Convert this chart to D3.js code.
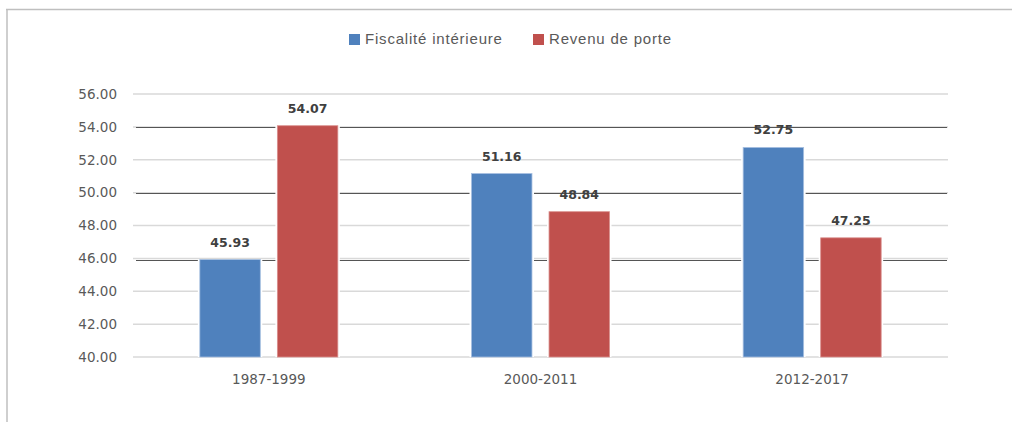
<!DOCTYPE html>
<html lang="fr">
<head>
  <meta charset="UTF-8">
  <title>Fiscalité intérieure / Revenu de porte</title>
  <script src="https://d3js.org/d3.v7.min.js"></script>
  <style>
  body{ margin:0; background:#fff; }
  .tick text{ font-family:"DejaVu Sans", sans-serif; font-size:13.5px; fill:#595959; }
  .legend text{ font-family:"Liberation Sans", sans-serif; font-size:15px; letter-spacing:0.8px; fill:#595959; }
  .val{ font-family:"DejaVu Sans", sans-serif; font-size:12.5px; font-weight:bold; fill:#404040; }
  </style>
</head>
<body>
  <div class="container"></div>
  <script>
  var periods = ["1987-1999", "2000-2011", "2012-2017"];
  var series = ["Fiscalité intérieure", "Revenu de porte"];
  var fiscalite = [45.93, 51.16, 52.75];
  var revenuPorte = [54.07, 48.84, 47.25];
  var yTicks = [40, 42, 44, 46, 48, 50, 52, 54, 56];
  var darkLines = [46, 50, 54];   // the darker rules seen in the picture
  var colors = ["#4F81BD", "#C0504D"];

  var w = 1012, h = 422,
      margin = {top: 94, right: 64, bottom: 65, left: 133};
  var g_w = w - margin.left - margin.right,
      g_h = h - margin.top - margin.bottom;

  var svg = d3.select('.container').append('svg')
      .attr('width', w).attr('height', h);

  // outer frame (top + left edges only visible)
  svg.append('line').attr('x1', 6).attr('x2', w).attr('y1', 9.5).attr('y2', 9.5)
     .attr('stroke', '#bfbfbf').attr('stroke-width', 1.5);
  svg.append('line').attr('x1', 7).attr('x2', 7).attr('y1', 9).attr('y2', h)
     .attr('stroke', '#bfbfbf').attr('stroke-width', 1.5);

  var g = svg.append('g').attr('transform', 'translate(' + margin.left + ',' + margin.top + ')');

  var yScale = d3.scaleLinear().domain([40, 56]).range([g_h, 0]);
  var x0 = d3.scaleBand().domain(periods).range([0, g_w]);
  var x1 = d3.scaleBand().domain(series).range([-69, 69]).paddingInner(0.22);

  // light gridlines
  g.selectAll('.grid').data(yTicks).enter().append('line')
    .attr('x1', 0).attr('x2', g_w)
    .attr('y1', function(d){ return yScale(d); })
    .attr('y2', function(d){ return yScale(d); })
    .attr('stroke', '#d9d9d9').attr('stroke-width', 1.5);

  // darker rules
  g.selectAll('.dark').data(darkLines).enter().append('line')
    .attr('x1', 3).attr('x2', g_w - 1)
    .attr('y1', function(d){ return Math.round(yScale(d)) + (d === 46 ? 2.5 : 0.5); })
    .attr('y2', function(d){ return Math.round(yScale(d)) + (d === 46 ? 2.5 : 0.5); })
    .attr('stroke', '#555').attr('stroke-width', 1);

  var yAxis = d3.axisLeft(yScale).tickValues(yTicks).tickSize(0).tickPadding(16)
      .tickFormat(d3.format('.2f'));
  var ya = g.append('g').call(yAxis);
  ya.select('.domain').remove();

  var xAxis = d3.axisBottom(x0).tickSize(0).tickPadding(17);
  var xa = g.append('g').attr('transform', 'translate(0,' + g_h + ')').call(xAxis);
  xa.select('.domain').remove();

  var rows = periods.map(function(p, i){
    return [{s: series[0], v: fiscalite[i], c: colors[0]},
            {s: series[1], v: revenuPorte[i], c: colors[1]}].map(function(d){ d.p = p; return d; });
  });
  var flat = d3.merge(rows);

  var bars = g.selectAll('.bar').data(flat).enter().append('g')
    .attr('transform', function(d){ return 'translate(' + (x0(d.p) + x0.bandwidth()/2 + x1(d.s)) + ',0)'; });

  bars.append('rect')
    .attr('x', -2).attr('width', x1.bandwidth() + 4)
    .attr('y', function(d){ return yScale(d.v); })
    .attr('height', function(d){ return g_h - yScale(d.v); })
    .attr('fill', '#fff');
  bars.append('rect')
    .attr('width', x1.bandwidth())
    .attr('y', function(d){ return yScale(d.v); })
    .attr('height', function(d){ return g_h - yScale(d.v); })
    .attr('fill', function(d){ return d.c; })
    .attr('stroke', function(d, i){ return i % 2 ? '#d98f8d' : '#a6bfe0'; })
    .attr('stroke-width', 0.8);
  bars.append('text').attr('class', 'val')
    .attr('x', x1.bandwidth()/2)
    .attr('y', function(d){ return yScale(d.v) - 13; })
    .attr('text-anchor', 'middle')
    .text(function(d){ return d.v.toFixed(2); });

  // legend
  var legX = [349, 533];
  var lg = svg.append('g').attr('class', 'legend');
  var li = lg.selectAll('g').data(series).enter().append('g')
    .attr('transform', function(d, i){ return 'translate(' + legX[i] + ',34)'; });
  li.append('rect').attr('width', 11).attr('height', 11)
    .attr('fill', function(d, i){ return colors[i]; });
  li.append('text').attr('x', 16).attr('y', 10).text(function(d){ return d; });
  </script>
</body>
</html>
